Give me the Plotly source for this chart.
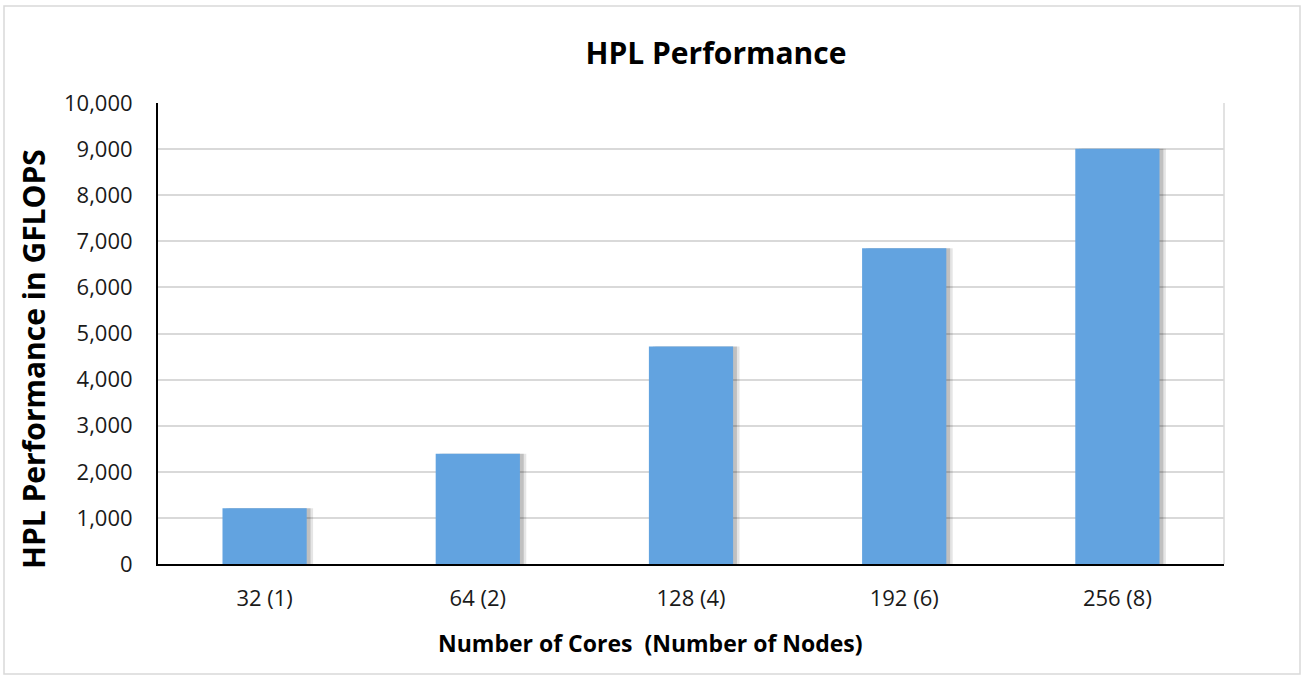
import plotly.graph_objects as go

# chart data
categories = ["32 (1)", "64 (2)", "128 (4)", "192 (6)", "256 (8)"]
gflops = [1210, 2390, 4720, 6850, 9010]
y_ticks = [0, 1000, 2000, 3000, 4000, 5000, 6000, 7000, 8000, 9000, 10000]

W, H = 1306, 681
# plot area in pixels
L, R, T, B = 158, 82, 103, 117
PW, PH = W - L - R, H - T - B


def px_x(x):
    # pixel x -> paper x
    return (x - L) / PW


def px_y(y):
    # pixel y -> paper y
    return 1 - (y - T) / PH


bar_w = 0.395
font = "Open Sans"

fig = go.Figure()

# soft shadow behind the bars
fig.add_trace(go.Bar(x=categories, y=gflops, width=bar_w, offset=-bar_w / 2 + 0.03,
                     marker=dict(color="rgba(0,0,0,0.10)", line_width=0), hoverinfo="skip"))
fig.add_trace(go.Bar(x=categories, y=gflops, width=bar_w, offset=-bar_w / 2 + 0.018,
                     marker=dict(color="rgba(0,0,0,0.16)", line_width=0), hoverinfo="skip"))
# main bars
fig.add_trace(go.Bar(x=categories, y=gflops, width=bar_w,
                     marker=dict(color="#62a3e0", line_width=0), name="HPL"))

fig.update_layout(
    width=W, height=H,
    margin=dict(l=L, r=R, t=T, b=B),
    barmode="overlay",
    showlegend=False,
    paper_bgcolor="white",
    plot_bgcolor="white",
    font=dict(family=font, color="#1a1a1a"),
    title=dict(text="<b>HPL Performance</b>", x=716 / W, y=1 - 53 / H,
               xanchor="center", yanchor="middle",
               font=dict(family=font, size=30, color="#000000")),
)

fig.update_xaxes(showline=True, linecolor="#000000", linewidth=2, showgrid=False,
                 tickfont=dict(size=22), ticks="", ticklabelstandoff=14)
fig.update_yaxes(range=[0, 10000], tickvals=y_ticks, tickformat=",d",
                 showline=True, linecolor="#000000", linewidth=2,
                 showgrid=True, gridcolor="#d9d9d9", gridwidth=1.5,
                 tickfont=dict(size=22), ticks="", ticklabelstandoff=19, zeroline=False)

# axis titles
fig.add_annotation(text="<b>HPL Performance in GFLOPS</b>", xref="paper", yref="paper",
                   x=px_x(33), y=px_y(359), textangle=-90, showarrow=False,
                   xanchor="center", yanchor="middle",
                   font=dict(family=font, size=30, color="#000000"))
fig.add_annotation(text="<b>Number of Cores  (Number of Nodes)</b>", xref="paper", yref="paper",
                   x=px_x(650), y=px_y(643), showarrow=False,
                   xanchor="center", yanchor="middle",
                   font=dict(family=font, size=23, color="#000000"))

# right border of plot area and outer chart frame
fig.add_shape(type="line", xref="paper", yref="paper", x0=1, x1=1, y0=0, y1=1,
              line=dict(color="#d9d9d9", width=1.5))
fig.add_shape(type="rect", xref="paper", yref="paper",
              x0=px_x(4), x1=px_x(1300), y0=px_y(674), y1=px_y(6),
              line=dict(color="#d9d9d9", width=1.5), layer="below")

# drop the browser's default body margin so the figure sits at the page origin
fig.write_html("out.html", config={"displayModeBar": False},
               post_script="document.body.style.margin='0';")
